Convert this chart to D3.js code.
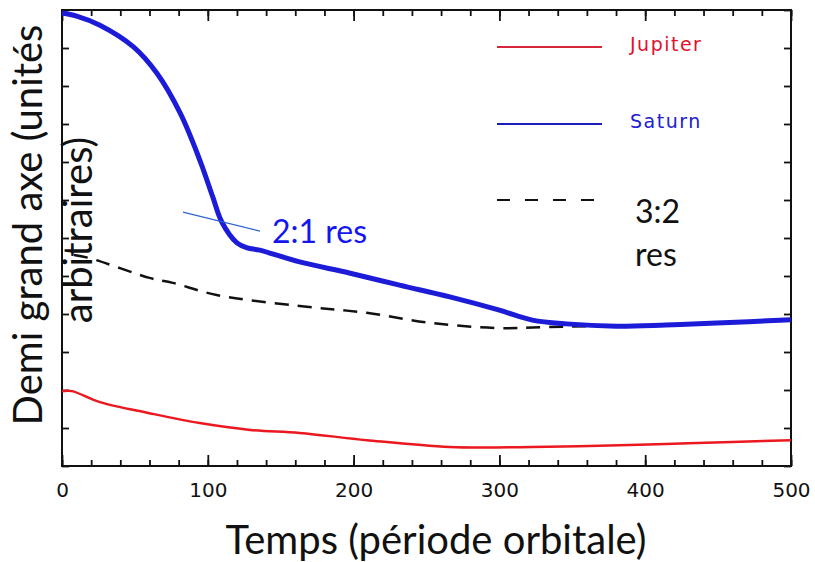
<!DOCTYPE html>
<html>
<head>
<meta charset="utf-8">
<script src="https://cdn.jsdelivr.net/npm/d3@7"></script>
<style>
  body { margin: 0; background: #fff; }
  svg { display: block; }
</style>
</head>
<body>
<svg id="chart" width="815" height="562"></svg>
<script>
// valeurs (temps en periodes orbitales, demi grand axe en unites arbitraires)
const tempsSaturne = [0, 10, 26, 49, 65, 81, 94.5, 103.4, 109.6, 120, 127, 135.6, 163, 197, 231.5, 266, 300, 322.6, 346, 380, 414, 449, 500];
const saturne = [11.92, 11.84, 11.6, 11.03, 10.34, 9.29, 8.05, 7.08, 6.42, 5.87, 5.74, 5.68, 5.37, 5.08, 4.76, 4.45, 4.1, 3.84, 3.74, 3.68, 3.71, 3.76, 3.85];

const tempsJupiter = [0, 6.8, 26, 60, 94.5, 129, 163, 209, 266, 322.6, 368.5, 414, 459.6, 500];
const jupiter = [1.97, 1.97, 1.68, 1.39, 1.13, 0.95, 0.87, 0.68, 0.5, 0.5, 0.53, 0.58, 0.63, 0.68];

const tempsRes32 = [8.2, 19, 60, 76, 106, 163, 209, 254, 300, 334, 368, 403, 437, 495];
const res32 = [5.55, 5.47, 4.95, 4.82, 4.5, 4.21, 4.03, 3.76, 3.63, 3.66, 3.68, 3.68, 3.74, 3.82];

const ticksMajeurs = [0, 100, 200, 300, 400, 500];
const ticksMineurs = d3.range(0, 501, 20);
const ticksY = d3.range(0, 13);

const svg = d3.select('#chart');
const gauche = 62, droite = 791, haut = 10, bas = 466;

const x = d3.scaleLinear().domain([0, 500]).range([gauche, droite]);
const y = d3.scaleLinear().domain([0, 12]).range([bas, haut]);

// axes (ticks vers l'interieur)
svg.append('g').attr('transform', 'translate(0,' + bas + ')')
  .call(d3.axisBottom(x).tickValues(ticksMineurs).tickSize(-6).tickFormat(''));
svg.append('g').attr('transform', 'translate(0,' + bas + ')')
  .call(d3.axisBottom(x).tickValues(ticksMajeurs).tickSize(-11).tickPadding(17).tickFormat(d3.format('d')))
  .attr('class', 'labels');
svg.append('g').attr('transform', 'translate(0,' + haut + ')')
  .call(d3.axisTop(x).tickValues(ticksMineurs).tickSize(-6).tickFormat(''));
svg.append('g').attr('transform', 'translate(0,' + haut + ')')
  .call(d3.axisTop(x).tickValues(ticksMajeurs).tickSize(-11).tickFormat(''));
svg.append('g').attr('transform', 'translate(' + gauche + ',0)')
  .call(d3.axisLeft(y).tickValues(ticksY).tickSize(-7).tickFormat(''));
svg.append('g').attr('transform', 'translate(' + droite + ',0)')
  .call(d3.axisRight(y).tickValues(ticksY).tickSize(-7).tickFormat(''));

svg.selectAll('.domain').remove();
svg.selectAll('.tick line').attr('stroke', '#111').attr('stroke-width', 1.8);
svg.selectAll('.labels text')
  .attr('font-family', 'DejaVu Sans').attr('font-size', 20).attr('fill', '#111');

// cadre
svg.append('rect')
  .attr('x', gauche).attr('y', haut)
  .attr('width', droite - gauche).attr('height', bas - haut)
  .attr('style', 'fill:none;stroke:#111;stroke-width:2');

function ligne(ts) {
  return d3.line().x(function (d, i) { return x(ts[i]); }).y(function (d) { return y(d); })
    .curve(d3.curveCatmullRom.alpha(0.5));
}

svg.append('path').datum(res32)
  .attr('d', ligne(tempsRes32))
  .attr('style', 'fill:none;stroke:#111;stroke-width:2.5;stroke-dasharray:14,9');

svg.append('path').datum(jupiter)
  .attr('d', ligne(tempsJupiter))
  .attr('style', 'fill:none;stroke:#ec1820;stroke-width:2.5');

svg.append('path').datum(saturne)
  .attr('d', ligne(tempsSaturne))
  .attr('style', 'fill:none;stroke:#1c1cd8;stroke-width:5');

// annotation 2:1
svg.append('line')
  .attr('x1', x(83)).attr('y1', y(6.68))
  .attr('x2', x(135.8)).attr('y2', y(6.18))
  .attr('style', 'stroke:#2e62d8;stroke-width:1.2');
svg.append('text').attr('x', 272).attr('y', 243)
  .attr('font-family', 'Lato').attr('font-size', 32).attr('fill', '#1515f0')
  .text('2:1 res');

// legende
const legende = [
  { nom: 'Jupiter', y: 47, style: 'stroke:#d8263a;stroke-width:2', couleur: '#e0122e' },
  { nom: 'Saturn', y: 124, style: 'stroke:#1c1cb8;stroke-width:2', couleur: '#2020d0' }
];
legende.forEach(function (l) {
  svg.append('line').attr('x1', 497).attr('x2', 602).attr('y1', l.y).attr('y2', l.y).attr('style', l.style);
  svg.append('text').attr('x', 630).attr('y', l.y + 4)
    .attr('font-family', 'DejaVu Sans').attr('font-size', 19).attr('letter-spacing', 1.5)
    .attr('fill', l.couleur).text(l.nom);
});
svg.append('line').attr('x1', 497).attr('x2', 602).attr('y1', 200).attr('y2', 200)
  .attr('style', 'stroke:#111;stroke-width:2;stroke-dasharray:13,15');
svg.append('text').attr('x', 635).attr('y', 223)
  .attr('font-family', 'Lato').attr('font-size', 32).attr('fill', '#111').text('3:2');
svg.append('text').attr('x', 635).attr('y', 266)
  .attr('font-family', 'Lato').attr('font-size', 32).attr('fill', '#111').text('res');

// titres des axes
svg.append('text').attr('x', 436).attr('y', 554).attr('text-anchor', 'middle')
  .attr('font-family', 'Lato').attr('font-size', 40).attr('fill', '#111')
  .text('Temps (période orbitale)');
const titreY = svg.append('text').attr('transform', 'translate(42,225) rotate(-90)')
  .attr('text-anchor', 'middle').attr('font-family', 'Lato').attr('font-size', 40).attr('fill', '#111');
titreY.append('tspan').attr('x', 0).attr('y', 0).text('Demi grand axe (unités');
titreY.append('tspan').attr('x', -5).attr('y', 50).text('arbitraires)');
</script>
</body>
</html>
